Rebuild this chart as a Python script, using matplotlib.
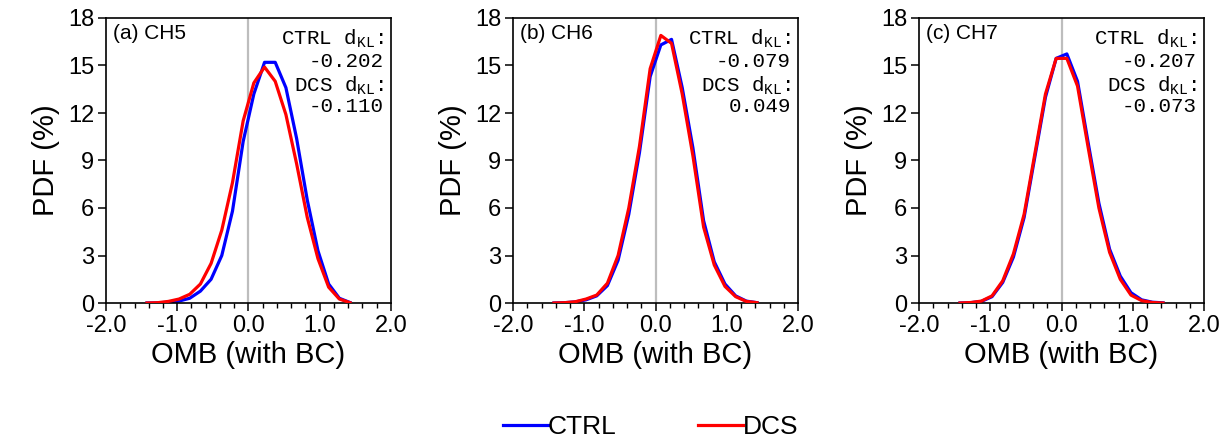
import numpy as np
import matplotlib
matplotlib.use("Agg")
import matplotlib.pyplot as plt
from matplotlib.ticker import MultipleLocator, FormatStrFormatter

plt.rcParams['font.family'] = ['Liberation Sans', 'DejaVu Sans']
plt.rcParams['mathtext.fontset'] = 'custom'
plt.rcParams['mathtext.rm'] = 'Liberation Mono'

# bin centres of OMB (with BC)
omb = [-1.425, -1.275, -1.125, -0.975, -0.825, -0.675, -0.525, -0.375, -0.225, -0.075,
       0.075, 0.225, 0.375, 0.525, 0.675, 0.825, 0.975, 1.125, 1.275, 1.425]

# PDF (%) per channel
ch5_ctrl = [0.0, 0.01, 0.05, 0.12, 0.3, 0.75, 1.5, 3.0, 5.8, 10.2,
            13.2, 15.2, 15.2, 13.6, 10.4, 6.5, 3.3, 1.2, 0.3, 0.03]
ch5_dcs = [0.0, 0.02, 0.1, 0.25, 0.55, 1.2, 2.5, 4.6, 7.6, 11.5,
           13.9, 14.9, 14.0, 11.9, 8.8, 5.4, 2.8, 1.0, 0.25, 0.02]

ch6_ctrl = [0.0, 0.02, 0.07, 0.2, 0.45, 1.1, 2.7, 5.6, 9.5, 14.3,
            16.3, 16.65, 13.6, 9.8, 5.2, 2.6, 1.2, 0.45, 0.12, 0.02]
ch6_dcs = [0.0, 0.02, 0.08, 0.25, 0.5, 1.25, 3.0, 6.0, 9.9, 14.8,
           16.9, 16.4, 13.2, 9.3, 4.8, 2.4, 1.05, 0.4, 0.1, 0.02]

ch7_ctrl = [0.0, 0.02, 0.1, 0.4, 1.3, 2.9, 5.4, 9.2, 13.0, 15.45,
            15.73, 14.0, 10.1, 6.3, 3.4, 1.7, 0.65, 0.2, 0.05, 0.01]
ch7_dcs = [0.0, 0.03, 0.12, 0.45, 1.4, 3.1, 5.6, 9.4, 13.2, 15.45,
           15.45, 13.7, 9.8, 6.0, 3.2, 1.5, 0.5, 0.15, 0.03, 0.0]

panel_titles = ['(a) CH5', '(b) CH6', '(c) CH7']
ctrl_dkl = ['-0.202', '-0.079', '-0.207']
dcs_dkl = ['-0.110', '0.049', '-0.073']
ctrl_series = [ch5_ctrl, ch6_ctrl, ch7_ctrl]
dcs_series = [ch5_dcs, ch6_dcs, ch7_dcs]

fig = plt.figure(figsize=(12.28, 4.41), dpi=100)
lefts = [106, 513, 919]
W, H = 1228.0, 441.0
axw = 285 / W
axb = 1 - 303 / H
axh = 285 / H

for i in range(3):
    ax = fig.add_axes([lefts[i] / W, axb, axw, axh])
    ax.axvline(0, color='#bdbdbd', lw=1.6, zorder=1)
    l1, = ax.plot(omb, ctrl_series[i], color='#0000ff', lw=2.3, zorder=2, label='CTRL')
    l2, = ax.plot(omb, dcs_series[i], color='#ff0000', lw=2.3, zorder=3, label='DCS')
    ax.set_xlim(-2, 2)
    ax.set_ylim(0, 18)
    ax.xaxis.set_major_locator(MultipleLocator(1.0))
    ax.xaxis.set_minor_locator(MultipleLocator(0.2))
    ax.xaxis.set_major_formatter(FormatStrFormatter('%.1f'))
    ax.yaxis.set_major_locator(MultipleLocator(3))
    ax.tick_params(axis='both', which='major', direction='out', length=5.5, width=1.1,
                   labelsize=17, top=False, right=False, pad=3)
    ax.tick_params(axis='x', which='minor', direction='out', length=3.5, width=1.0,
                   top=False)
    for s in ax.spines.values():
        s.set_linewidth(1.2)
    ax.set_xlabel('OMB (with BC)', fontsize=21, labelpad=3)
    ax.set_ylabel('PDF (%)', fontsize=21, labelpad=6)
    ax.text(0.025, 0.947, panel_titles[i], transform=ax.transAxes, fontsize=15,
            ha='left', va='center')
    mono = dict(transform=ax.transAxes, ha='right', va='center', fontsize=15,
                family='Liberation Mono')
    ax.text(0.975, 0.926, r'CTRL d$_{\mathrm{KL}}$:', **mono)
    ax.text(0.975, 0.846, ctrl_dkl[i], **mono)
    ax.text(0.975, 0.761, r'DCS d$_{\mathrm{KL}}$:', **mono)
    ax.text(0.975, 0.688, dcs_dkl[i], **mono)

fig.legend([l1, l2], ['CTRL', 'DCS'], loc='center', bbox_to_anchor=(0.530, 1 - 427 / H),
           ncol=2, frameon=False, fontsize=19, handlelength=1.7, handletextpad=0.0,
           columnspacing=3.1)

fig.savefig('out.png', dpi=100)
